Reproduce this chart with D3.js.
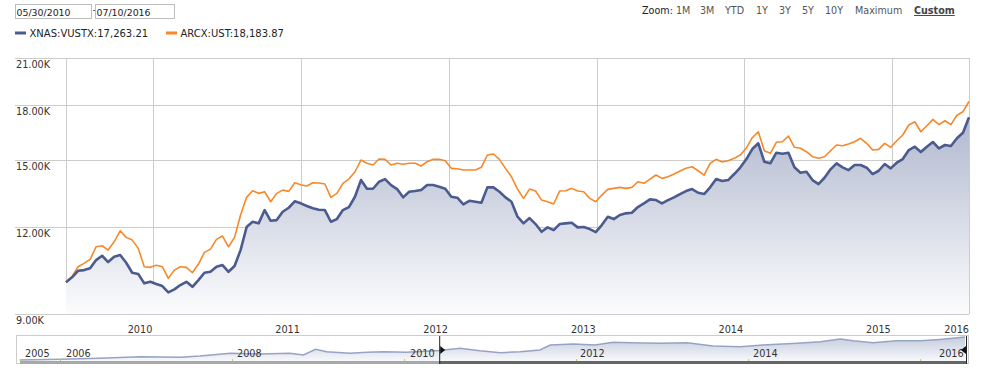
<!DOCTYPE html>
<html>
<head>
<meta charset="utf-8">
<script src="https://cdnjs.cloudflare.com/ajax/libs/d3/7.8.5/d3.min.js"></script>
<style>
  body { margin: 0; background: #fff; }
  svg { display: block; font-family: "DejaVu Sans", Verdana, sans-serif; }
</style>
</head>
<body>
<div id="chart"></div>
<script>
// growth of 10K, evenly spaced from 05/30/2010 to 07/10/2016
var vustx = [10000, 10161, 10384, 10408, 10468, 10758, 10914, 10688, 10877, 10939,
  10664, 10316, 10272, 9961, 10013, 9938, 9872, 9668, 9764, 9905,
  10013, 9849, 10069, 10316, 10350, 10524, 10583, 10350, 10548, 11120,
  12000, 12213, 12149, 12695, 12253, 12281, 12625, 12793, 13070, 12981,
  12866, 12768, 12708, 12695, 12213, 12322, 12695, 12823, 13267, 14020,
  13622, 13622, 13942, 14067, 13791, 13609, 13241, 13488, 13519, 13563,
  13791, 13791, 13714, 13622, 13267, 13224, 12938, 13092, 13049, 13007,
  13686, 13686, 13488, 13241, 13049, 12418, 12149, 12364, 12121, 11815,
  11989, 11881, 12121, 12149, 12174, 11989, 12001, 11921, 11804, 12081,
  12418, 12322, 12488, 12558, 12583, 12823, 12981, 13153, 13122, 12981,
  13122, 13241, 13386, 13519, 13609, 13444, 13386, 13686, 14067, 13974,
  14020, 14303, 14614, 15016, 15537, 15834, 14898, 14820, 15349, 15298,
  15349, 14624, 14364, 14412, 14020, 13837, 14129, 14526, 14820, 14624,
  14492, 14737, 14737, 14605, 14303, 14459, 14786, 14575, 14849, 15031,
  15485, 15657, 15384, 15657, 15902, 15574, 15746, 15693, 16098, 16400,
  17263.21];

var ust = [10000, 10181, 10524, 10642, 10783, 11243, 11281, 11120, 11430, 11854,
  11598, 11494, 11184, 10524, 10503, 10573, 10524, 10127, 10408, 10524,
  10503, 10316, 10618, 11037, 11157, 11521, 11649, 11243, 11598, 12488,
  13241, 13532, 13417, 13488, 13049, 13417, 13563, 13506, 13897, 13805,
  13746, 13897, 13883, 13837, 13241, 13417, 13869, 14067, 14412, 14981,
  14820, 14737, 15031, 15016, 14737, 14820, 14771, 14820, 14820, 14688,
  14898, 15016, 15016, 14947, 14575, 14556, 14492, 14492, 14492, 14624,
  15233, 15283, 15016, 14575, 14176, 13609, 13197, 13609, 13519, 13122,
  13049, 12951, 13519, 13532, 13641, 13519, 13488, 13197, 13049, 13342,
  13595, 13641, 13686, 13641, 13686, 13942, 13869, 14067, 14256, 14100,
  14176, 14303, 14445, 14575, 14653, 14459, 14256, 14820, 15016, 14883,
  14947, 15066, 15233, 15574, 16130, 16453, 15450, 15319, 15886, 15917,
  16222, 15626, 15574, 15399, 15147, 15066, 15147, 15450, 15746, 15709,
  15798, 15917, 16098, 15834, 15485, 15521, 15834, 15626, 15970, 16276,
  16824, 17007, 16453, 16785, 17142, 16841, 17063, 16841, 17373, 17580,
  18183.87];

var seriesNames = ["XNAS:VUSTX:17,263.21", "ARCX:UST:18,183.87"];
var yTicks = [9000, 12000, 15000, 18000, 21000];
var xTickYears = [2011, 2012, 2013, 2014, 2015, 2016];
var zoomLabels = ["1M", "3M", "YTD", "1Y", "3Y", "5Y", "10Y", "Maximum", "Custom"];

// navigator (full history of VUSTX)
var navYears = [2005.53, 2006.0, 2006.47, 2006.93, 2007.40, 2007.63, 2007.98, 2008.33, 2008.67, 2008.83,
  2008.97, 2009.10, 2009.37, 2009.57, 2009.76, 2010.03, 2010.41, 2010.65, 2010.88, 2011.12,
  2011.35, 2011.58, 2011.70, 2011.97, 2012.22, 2012.43, 2012.63, 2012.98, 2013.29, 2013.59,
  2013.91, 2014.17, 2014.57, 2014.84, 2015.07, 2015.22, 2015.45, 2015.73, 2016.0, 2016.23,
  2016.52];
var navValues = [4889, 5266, 5804, 6664, 6342, 7041, 8494, 8117, 8494, 7579,
  10646, 9354, 8494, 9032, 9354, 9032, 10000, 11184, 9892, 8816,
  9354, 10269, 12959, 13497, 12959, 14412, 14196, 13874, 14196, 12421,
  12044, 12959, 13874, 14734, 16187, 15272, 14196, 15272, 15272, 16026,
  17263];
var navTickYears = [2006, 2008, 2010, 2012, 2014, 2016];
var navLabels = ["2005", "2006", "2008", "2010", "2012", "2014", "2016"];

var width = 981, height = 372;
var start = new Date(2010, 4, 30), end = new Date(2016, 6, 10);
var dates = vustx.map(function(d, i) { return new Date(+start + i * (end - start) / (vustx.length - 1)); });

function yearDate(y) {
  var yr = Math.floor(y);
  var a = new Date(yr, 0, 1), b = new Date(yr + 1, 0, 1);
  return new Date(+a + (y - yr) * (b - a));
}

var svg = d3.select("#chart").append("svg")
  .attr("width", width)
  .attr("height", height);

var x = d3.scaleTime().domain([start, end]).range([66, 969]);
var y = d3.scaleLog().domain([9000, 21000]).range([314, 58]);

// ---- header: date boxes, zoom links, legend
var hdr = svg.append("g").style("font-size", "9.4px").attr("fill", "#222");
hdr.append("rect").attr("x", 15.5).attr("y", 4.5).attr("width", 76).attr("height", 14)
  .attr("fill", "#fff").attr("stroke", "#bdbdbd");
hdr.append("text").attr("x", 16.5).attr("y", 15.5).text("05/30/2010");
hdr.append("text").attr("x", 92.5).attr("y", 13).text("-");
hdr.append("rect").attr("x", 95.5).attr("y", 4.5).attr("width", 79).attr("height", 14)
  .attr("fill", "#fff").attr("stroke", "#bdbdbd");
hdr.append("text").attr("x", 96.5).attr("y", 15.5).text("07/10/2016");

var zoomX = [676, 700, 725, 756, 779, 802, 825, 855, 914];
var zg = svg.append("g").style("font-size", "9.6px");
zg.append("text").attr("x", 642).attr("y", 14).attr("fill", "#222").text("Zoom:");
zoomLabels.forEach(function(t, i) {
  var last = i === zoomLabels.length - 1;
  zg.append("text").attr("x", zoomX[i]).attr("y", 14)
    .attr("fill", last ? "#444" : "#555")
    .style("font-weight", last ? "bold" : "normal")
    .style("text-decoration", last ? "underline" : "none")
    .text(t);
});

var colors = ["#4b5b8e", "#f7882a"];
var legX = [15, 166];
seriesNames.forEach(function(n, i) {
  svg.append("rect").attr("x", legX[i]).attr("y", 31.5).attr("width", 11).attr("height", 3).attr("fill", colors[i]);
  svg.append("text").attr("x", legX[i] + 14.5).attr("y", 37).style("font-size", "10px")
    .attr("fill", "#222").text(n);
});

// ---- grid
var grid = svg.append("g").attr("stroke", "#cccccc").attr("shape-rendering", "crispEdges");
yTicks.forEach(function(t) {
  grid.append("line").attr("x1", 15).attr("x2", 969).attr("y1", Math.round(y(t)) + 0.5).attr("y2", Math.round(y(t)) + 0.5);
});
var gridX = [66].concat(xTickYears.map(function(yr) { return x(new Date(yr, 0, 1)); })).concat([969]);
gridX.forEach(function(gx) {
  grid.append("line").attr("x1", Math.round(gx) + 0.5).attr("x2", Math.round(gx) + 0.5).attr("y1", 58).attr("y2", 314);
});

// ---- area + lines
var defs = svg.append("defs");
var grad = defs.append("linearGradient").attr("id", "areaGrad")
  .attr("gradientUnits", "userSpaceOnUse").attr("x1", 0).attr("x2", 0).attr("y1", 110).attr("y2", 314);
grad.append("stop").attr("offset", 0).attr("stop-color", "#aeb6cd");
grad.append("stop").attr("offset", 1).attr("stop-color", "#fcfcfd");

var area = d3.area()
  .x(function(d, i) { return x(dates[i]); })
  .y0(314)
  .y1(function(d) { return y(d); });
svg.append("path").datum(vustx).attr("d", area).attr("fill", "url(#areaGrad)");

var line = d3.line()
  .x(function(d, i) { return x(dates[i]); })
  .y(function(d) { return y(d); });
svg.append("path").datum(ust).attr("d", line).attr("fill", "none")
  .attr("stroke", colors[1]).attr("stroke-width", 1.6).attr("stroke-linejoin", "round");
svg.append("path").datum(vustx).attr("d", line).attr("fill", "none")
  .attr("stroke", colors[0]).attr("stroke-width", 2.6).attr("stroke-linejoin", "round");

// ---- axis labels
var lab = svg.append("g").style("font-size", "9.7px").attr("fill", "#333");
yTicks.forEach(function(t) {
  lab.append("text").attr("x", 16).attr("y", y(t) + 10).text(d3.format(".2f")(t / 1000) + "K");
});
xTickYears.forEach(function(yr) {
  lab.append("text").attr("x", x(new Date(yr, 0, 1)) - 1).attr("y", 333)
    .attr("text-anchor", "end").text(yr - 1);
});
lab.append("text").attr("x", 969).attr("y", 333).attr("text-anchor", "end").text("2016");

// ---- navigator
var nx = d3.scaleTime().domain([yearDate(2005.5), yearDate(2016.52)]).range([17, 965]);
var ny = d3.scaleLinear().domain([2700, 18400]).range([364, 335]);
var nav = svg.append("g");
nav.append("rect").attr("x", 16.5).attr("y", 335.5).attr("width", 952).attr("height", 28)
  .attr("fill", "#fff").attr("stroke", "#cccccc");

var ngrad = defs.append("linearGradient").attr("id", "navGrad")
  .attr("gradientUnits", "userSpaceOnUse").attr("x1", 0).attr("x2", 0).attr("y1", 336).attr("y2", 361);
ngrad.append("stop").attr("offset", 0).attr("stop-color", "#c4cbdd");
ngrad.append("stop").attr("offset", 1).attr("stop-color", "#f7f8fb");

var navArea = d3.area()
  .x(function(d, i) { return nx(yearDate(navYears[i])); })
  .y0(361)
  .y1(function(d) { return ny(d); });
nav.append("path").datum(navValues).attr("d", navArea).attr("fill", "url(#navGrad)");
nav.append("path").datum(navValues).attr("d", navArea.lineY1()).attr("fill", "none")
  .attr("stroke", "#97a3c4").attr("stroke-width", 1.5);

// bottom bar, lighter outside the selection
var selL = nx(start), selR = 966;
nav.append("rect").attr("x", 20).attr("y", 361).attr("width", selL - 20).attr("height", 3).attr("fill", "#a8a8a8");
nav.append("rect").attr("x", selL).attr("y", 361).attr("width", selR - selL).attr("height", 3).attr("fill", "#666");

navTickYears.forEach(function(yr) {
  nav.append("rect").attr("x", nx(new Date(yr, 0, 1))).attr("y", 359).attr("width", 1).attr("height", 2).attr("fill", "#b5d16a");
});
nav.append("rect").attr("x", 20).attr("y", 359).attr("width", 1).attr("height", 2).attr("fill", "#b5d16a");

var navLabX = [25, 66, 237, 410, 580, 753, 939];
navLabels.forEach(function(t, i) {
  nav.append("text").attr("x", navLabX[i]).attr("y", 357).style("font-size", "9.7px").attr("fill", "#333").text(t);
});

// selection handles
nav.append("line").attr("x1", selL + 0.5).attr("x2", selL + 0.5).attr("y1", 336).attr("y2", 364)
  .attr("stroke", "#222").attr("stroke-width", 1);
nav.append("path").attr("d", "M" + (selL + 1) + ",346 l5,4 l-5,4 z").attr("fill", "#111");
nav.append("line").attr("x1", selR + 0.5).attr("x2", selR + 0.5).attr("y1", 336).attr("y2", 364)
  .attr("stroke", "#222").attr("stroke-width", 1);
nav.append("path").attr("d", "M" + selR + ",346 l-5,4 l5,4 z").attr("fill", "#111");
</script>
</body>
</html>
